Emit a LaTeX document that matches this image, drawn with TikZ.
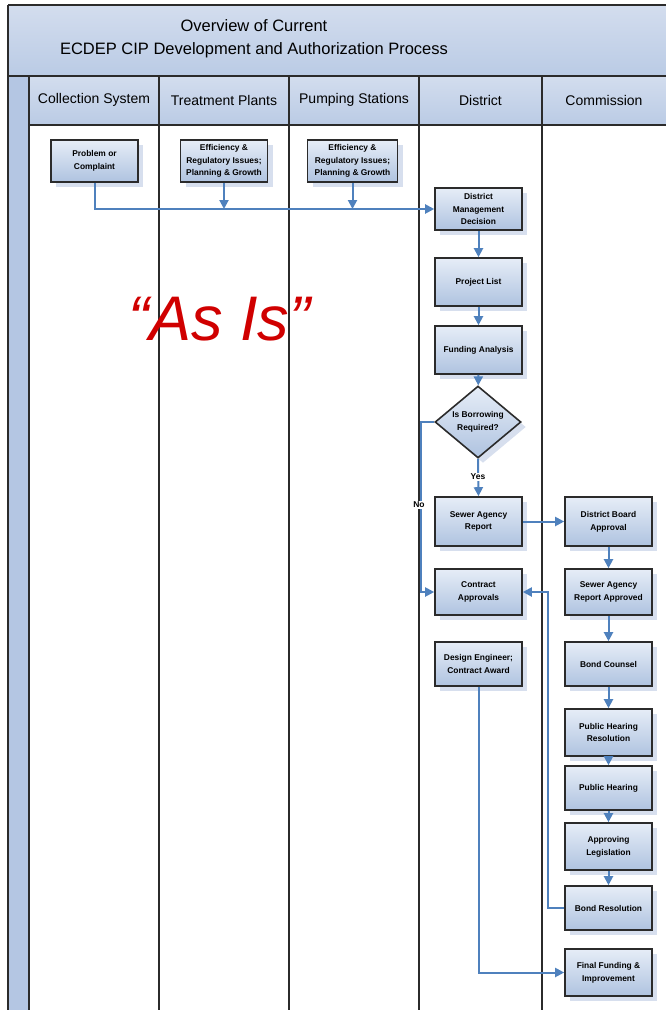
\documentclass[tikz,border=0pt]{standalone}
\usepackage{fontspec}
\setmainfont{Liberation Sans}
\usetikzlibrary{arrows.meta,shapes.geometric,shadows}
\definecolor{flow}{HTML}{4F81BD}
\definecolor{frame}{HTML}{2B2B2B}
\definecolor{bandtop}{HTML}{D3DDEE}
\definecolor{bandbot}{HTML}{BACBE5}
\definecolor{stripblue}{HTML}{B4C6E3}
\definecolor{boxtop}{HTML}{E6EDF7}
\definecolor{boxbot}{HTML}{AFC3E0}
\definecolor{shadowblue}{HTML}{D3DCEC}
\definecolor{asis}{HTML}{D00000}
\begin{document}
\begin{tikzpicture}[x=1pt,y=-1pt,
  lane/.style={draw=frame, line width=1.8pt},
  proc/.style={draw=frame, line width=1.6pt, top color=boxtop, bottom color=boxbot,
    minimum width=87pt, inner sep=1pt, align=center,
    font=\fontsize{8.4}{12.8}\selectfont\bfseries,
    drop shadow={shadow xshift=5pt, shadow yshift=-5pt, fill=shadowblue, opacity=0.9}},
  decide/.style={proc, shape=diamond, minimum width=86pt, minimum height=72pt, inner sep=0pt},
  flowline/.style={draw=flow, line width=2pt, -{Triangle[length=9pt,width=9pt]}},
  lanehead/.style={font=\fontsize{14}{16}\selectfont},
  tag/.style={fill=white, inner sep=1pt, font=\fontsize{8.5}{10}\selectfont\bfseries}
]
\useasboundingbox (0,0) rectangle (666,1010);

% title band, header row and left strip
\shade[top color=bandtop, bottom color=bandbot] (8,5) rectangle (670,76);
\shade[top color=bandtop, bottom color=bandbot] (29,76) rectangle (670,125);
\fill[stripblue] (8,76) rectangle (29,1012);

% swimlane frame
\draw[lane] (8,5) -- (670,5);
\draw[lane] (8,76) -- (670,76);
\draw[lane] (29,125) -- (670,125);
\draw[lane] (8,5) -- (8,1012);
\foreach \x in {29,159,289,419,542} \draw[lane] (\x,76) -- (\x,1012);

% titles
\node[align=center, font=\fontsize{16.5}{23}\selectfont] (title) at (254,38.5)
  {Overview of Current\\ECDEP CIP Development and Authorization Process};
\node[lanehead] (hcs) at (94,100) {Collection System};
\node[lanehead] (htp) at (224,100) {Treatment Plants};
\node[lanehead] (hps) at (354,100) {Pumping Stations};
\node[lanehead] (hd) at (480.5,100) {District};
\node[lanehead] (hc) at (604,100) {Commission};

\node[anchor=base west, inner sep=0pt, text=asis, font=\fontsize{63}{70}\selectfont\itshape] (asis) at (128,340) {“As Is”};

% process steps
\node[proc, minimum height=42pt] (prob) at (94.5,161) {Problem or\\Complaint};
\node[proc, minimum height=42pt] (eff1) at (224,161) {Efficiency \&\\Regulatory Issues;\\Planning \& Growth};
\node[proc, minimum height=42pt, minimum width=90pt] (eff2) at (352.5,161) {Efficiency \&\\Regulatory Issues;\\Planning \& Growth};
\node[proc, minimum height=42pt] (dmd) at (478.5,209) {District\\Management\\Decision};
\node[proc, minimum height=48pt] (plist) at (478.5,282) {Project List};
\node[proc, minimum height=48pt] (fund) at (478.5,350) {Funding Analysis};
\node[decide] (borrow) at (478,422) {Is Borrowing\\Required?};
\node[proc, minimum height=49pt] (sar) at (478.5,521.5) {Sewer Agency\\Report};
\node[proc, minimum height=49pt] (dba) at (608.5,521.5) {District Board\\Approval};
\node[proc, minimum height=46pt] (ca) at (478.5,592) {Contract\\Approvals};
\node[proc, minimum height=46pt] (sara) at (608.5,592) {Sewer Agency\\Report Approved};
\node[proc, minimum height=44pt] (dece) at (478.5,664) {Design Engineer;\\Contract Award};
\node[proc, minimum height=44pt] (bc) at (608.5,664) {Bond Counsel};
\node[proc, minimum height=47pt] (phr) at (608.5,732.5) {Public Hearing\\Resolution};
\node[proc, minimum height=44pt] (ph) at (608.5,788) {Public Hearing};
\node[proc, minimum height=47pt] (al) at (608.5,846.5) {Approving\\Legislation};
\node[proc, minimum height=44pt] (br) at (608.5,908) {Bond Resolution};
\node[proc, minimum height=47pt] (ffi) at (608.5,972.5) {Final Funding \&\\Improvement};

% junction points
\coordinate (j1) at (eff1.south |- dmd.west);
\coordinate (j2) at (eff2.south |- dmd.west);
\coordinate (nobend) at (421,422);
\coordinate (brbend) at (548,908);

% connectors
\draw[flowline] (prob.south) |- (dmd.west);
\draw[flowline] (eff1.south) -- (j1);
\draw[flowline] (eff2.south) -- (j2);
\draw[flowline] (dmd) -- (plist);
\draw[flowline] (plist) -- (fund);
\draw[flowline] (fund) -- (borrow);
\draw[flowline] (borrow.south) -- (sar.north);
\draw[flowline] (borrow.west) -- (nobend) |- (ca.west);
\draw[flowline] (sar) -- (dba);
\draw[flowline] (dba) -- (sara);
\draw[flowline] (sara) -- (bc);
\draw[flowline] (bc) -- (phr);
\draw[flowline] (phr) -- (ph);
\draw[flowline] (ph) -- (al);
\draw[flowline] (al) -- (br);
\draw[flowline] (br.west) -- (brbend) |- (ca.east);
\draw[flowline] (dece.south) |- (ffi.west);

% branch labels
\node[tag] (yes) at (478,477) {Yes};
\node[tag] (no) at (419,505) {No};
\end{tikzpicture}
\end{document}
